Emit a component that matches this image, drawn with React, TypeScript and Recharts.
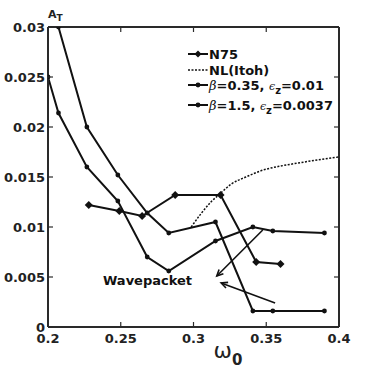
import { LineChart, Line, XAxis, YAxis, ReferenceLine, ReferenceDot, Legend, CartesianGrid } from "recharts";

const xTicks = [0.2, 0.25, 0.3, 0.35, 0.4];
const yTicks = [0, 0.005, 0.01, 0.015, 0.02, 0.025, 0.03];
const xDomain = [0.2, 0.4];
const yDomain = [0, 0.03];

// N75
const n75Omega = [0.228, 0.249, 0.2647, 0.2874, 0.3186, 0.3431, 0.3598];
const n75Amp = [0.0122, 0.0116, 0.0111, 0.0132, 0.0132, 0.0065, 0.0063];

// NL(Itoh)
const itohOmega = [0.2984, 0.305, 0.312, 0.318, 0.326, 0.336, 0.348, 0.36, 0.372, 0.385, 0.4];
const itohAmp = [0.01, 0.0113, 0.0125, 0.0133, 0.0143, 0.015, 0.0157, 0.0161, 0.0164, 0.0167, 0.017];

// beta=0.35, eps_z=0.01
const b035Omega = [0.2, 0.2072, 0.2267, 0.248, 0.2682, 0.283, 0.3151, 0.3408, 0.3545, 0.39];
const b035Amp = [0.025, 0.0214, 0.016, 0.0126, 0.007, 0.0056, 0.0086, 0.01, 0.0096, 0.0094];

// beta=1.5, eps_z=0.0037
const b15Omega = [0.2072, 0.2267, 0.248, 0.2682, 0.283, 0.3151, 0.3408, 0.3545, 0.39];
const b15Amp = [0.03, 0.02, 0.0152, 0.0114, 0.0094, 0.0105, 0.0016, 0.0016, 0.0016];

// wavepacket arrows
const arrowStart = [
  [0.3476, 0.0097],
  [0.3561, 0.0024],
];
const arrowEnd = [
  [0.316, 0.0051],
  [0.319, 0.0044],
];

const toPts = (xs: number[], ys: number[]) => xs.map((x, i) => ({ x, y: ys[i] }));

const W = 374;
const H = 368;
const M = { top: 27, right: 35, bottom: 0, left: 0 };

const FONT = "'DejaVu Sans', sans-serif";
const INK = "#111";
const AX = "#2a2a2a";

const BottomTick = (p: any) => (
  <g>
    <line x1={p.x} y1={p.y} x2={p.x} y2={p.y - 5} stroke={AX} strokeWidth={1.2} />
    <text x={p.x} y={p.y + 16} textAnchor="middle" fontFamily={FONT} fontWeight="bold" fontSize={13} fill="#222">
      {p.payload.value}
    </text>
  </g>
);
const LeftTick = (p: any) => (
  <g>
    <line x1={p.x} y1={p.y} x2={p.x + 5} y2={p.y} stroke={AX} strokeWidth={1.2} />
    <text x={p.x - 3} y={p.y + 4.5} textAnchor="end" fontFamily={FONT} fontWeight="bold" fontSize={13} fill="#222">
      {p.payload.value}
    </text>
  </g>
);

// grid line used only for the top and right sides of the box, with inward ticks
const BoxSide = (p: any) => {
  const { x1, y1, x2, y2 } = p;
  if (![x1, y1, x2, y2].every((v) => typeof v === "number" && isFinite(v))) return null;
  const horizontal = Math.abs(y1 - y2) < 0.5;
  const ticks = horizontal
    ? xTicks.map((t) => {
        const x = Math.min(x1, x2) + ((t - xDomain[0]) / (xDomain[1] - xDomain[0])) * Math.abs(x2 - x1);
        return <line key={t} x1={x} y1={y1} x2={x} y2={y1 + 5} stroke={AX} strokeWidth={1.2} />;
      })
    : yTicks.map((t) => {
        const y = Math.max(y1, y2) - ((t - yDomain[0]) / (yDomain[1] - yDomain[0])) * Math.abs(y2 - y1);
        return <line key={t} x1={x1} y1={y} x2={x1 - 5} y2={y} stroke={AX} strokeWidth={1.2} />;
      });
  return (
    <g>
      <line x1={x1} y1={y1} x2={x2} y2={y2} stroke={AX} strokeWidth={2} />
      {ticks}
    </g>
  );
};

const Diamond = (p: any) =>
  p.cx == null ? null : (
    <polygon
      key={p.key}
      points={`${p.cx},${p.cy - 4} ${p.cx + 4},${p.cy} ${p.cx},${p.cy + 4} ${p.cx - 4},${p.cy}`}
      fill={INK}
    />
  );
const Dot = (p: any) => (p.cx == null ? null : <circle key={p.key} cx={p.cx} cy={p.cy} r={2.4} fill={INK} />);

const Arrow = (p: any) => {
  const { x1, y1, x2, y2 } = p;
  const a = Math.atan2(y2 - y1, x2 - x1);
  const L = 7;
  const w = 0.45;
  const ax = x2 - L * Math.cos(a - w);
  const ay = y2 - L * Math.sin(a - w);
  const bx = x2 - L * Math.cos(a + w);
  const by = y2 - L * Math.sin(a + w);
  return (
    <g>
      <line x1={x1} y1={y1} x2={x2} y2={y2} stroke={INK} strokeWidth={1.6} />
      <polyline points={`${ax},${ay} ${x2},${y2} ${bx},${by}`} fill="none" stroke={INK} strokeWidth={1.6} />
    </g>
  );
};

const WaveLabel = (p: any) => (
  <text x={p.viewBox.x} y={p.viewBox.y + 4.5} textAnchor="middle" fontFamily={FONT} fontWeight="bold" fontSize={13} fill="#111">
    Wavepacket
  </text>
);

const XLabel = (p: any) => {
  const { x, y, width } = p.viewBox;
  const cx = x + width / 2 + 32;
  return (
    <text x={cx - 12} y={y + 31} fontFamily={FONT} fill="#222">
      <tspan fontSize={22}>ω</tspan>
      <tspan fontSize={15} fontWeight="bold" dy={7}>0</tspan>
    </text>
  );
};

const YLabel = (p: any) => {
  const { x, y, width } = p.viewBox;
  return (
    <text x={x + width} y={y - 9} fontFamily={FONT} fontWeight="bold" fill="#222">
      <tspan fontSize={11}>A</tspan>
      <tspan fontSize={9} dy={3}>T</tspan>
    </text>
  );
};

const LegendBox = () => {
  const rows = [9, 25, 40, 60];
  const txt = { fontFamily: FONT, fontWeight: "bold" as const, fontSize: 13, fill: "#111" };
  const greek = { fontFamily: "'DejaVu Serif', serif", fontStyle: "italic" as const, fontWeight: "normal" as const };
  return (
    <svg width={160} height={75} style={{ overflow: "visible", display: "block" }}>
      <line x1={1} y1={rows[0]} x2={21} y2={rows[0]} stroke={INK} strokeWidth={2} />
      <polygon points={`11,${rows[0] - 3.5} 14.5,${rows[0]} 11,${rows[0] + 3.5} 7.5,${rows[0]}`} fill={INK} />
      <text x={22} y={rows[0] + 4.5} {...txt}>N75</text>

      <line x1={1} y1={rows[1]} x2={21} y2={rows[1]} stroke={INK} strokeWidth={1.5} strokeDasharray="2 1.5" />
      <text x={22} y={rows[1] + 4.5} {...txt}>NL(Itoh)</text>

      <line x1={1} y1={rows[2]} x2={21} y2={rows[2]} stroke={INK} strokeWidth={2} />
      <circle cx={11} cy={rows[2]} r={2.4} fill={INK} />
      <text x={22} y={rows[2] + 4.5} {...txt}>
        <tspan {...greek}>β</tspan>=0.35, <tspan {...greek} fontSize={11}>ϵ</tspan>
        <tspan fontSize={10} dy={4}>z</tspan>
        <tspan dy={-4}>=0.01</tspan>
      </text>

      <line x1={1} y1={rows[3]} x2={21} y2={rows[3]} stroke={INK} strokeWidth={2} />
      <circle cx={11} cy={rows[3]} r={2.4} fill={INK} />
      <text x={22} y={rows[3] + 4.5} {...txt}>
        <tspan {...greek}>β</tspan>=1.5, <tspan {...greek} fontSize={11}>ϵ</tspan>
        <tspan fontSize={10} dy={4}>z</tspan>
        <tspan dy={-4}>=0.0037</tspan>
      </text>
    </svg>
  );
};

export default function App() {
  return (
    <div style={{ position: "absolute", left: 0, top: 0, width: W, height: H }}>
      <LineChart width={W} height={H} margin={M}>
        <CartesianGrid
          xAxisId="b"
          yAxisId="l"
          horizontalValues={[yDomain[1]]}
          verticalValues={[xDomain[1]]}
          stroke={AX}
          strokeWidth={2}
          strokeDasharray=""
          horizontal={<BoxSide />}
          vertical={<BoxSide />}
        />
        <XAxis
          xAxisId="b"
          type="number"
          dataKey="x"
          domain={xDomain}
          ticks={xTicks}
          tickSize={0}
          tickMargin={0}
          height={41}
          tick={<BottomTick />}
          axisLine={{ stroke: AX, strokeWidth: 2 }}
          allowDataOverflow
          label={<XLabel />}
        />
        <YAxis
          yAxisId="l"
          type="number"
          dataKey="y"
          domain={yDomain}
          ticks={yTicks}
          tickSize={0}
          tickMargin={0}
          width={48}
          tick={<LeftTick />}
          axisLine={{ stroke: AX, strokeWidth: 2 }}
          allowDataOverflow
          label={<YLabel />}
        />
        <Legend
          content={<LegendBox />}
          layout="horizontal"
          verticalAlign="middle"
          align="center"
          wrapperStyle={{ position: "absolute", left: 187, top: 45, width: 170, height: 75 }}
        />
        <Line
          xAxisId="b"
          yAxisId="l"
          data={toPts(itohOmega, itohAmp)}
          dataKey="y"
          type="monotone"
          stroke={INK}
          strokeWidth={1.5}
          strokeDasharray="2 1.5"
          dot={false}
          isAnimationActive={false}
        />
        <Line
          xAxisId="b"
          yAxisId="l"
          data={toPts(b035Omega, b035Amp)}
          dataKey="y"
          type="linear"
          stroke={INK}
          strokeWidth={2}
          dot={<Dot />}
          isAnimationActive={false}
        />
        <Line
          xAxisId="b"
          yAxisId="l"
          data={toPts(b15Omega, b15Amp)}
          dataKey="y"
          type="linear"
          stroke={INK}
          strokeWidth={2}
          dot={<Dot />}
          isAnimationActive={false}
        />
        <Line
          xAxisId="b"
          yAxisId="l"
          data={toPts(n75Omega, n75Amp)}
          dataKey="y"
          type="linear"
          stroke={INK}
          strokeWidth={2}
          dot={<Diamond />}
          isAnimationActive={false}
        />
        {arrowStart.map((s, i) => (
          <ReferenceLine
            key={i}
            xAxisId="b"
            yAxisId="l"
            segment={[
              { x: s[0], y: s[1] },
              { x: arrowEnd[i][0], y: arrowEnd[i][1] },
            ]}
            shape={<Arrow />}
          />
        ))}
        <ReferenceDot xAxisId="b" yAxisId="l" x={0.2684} y={0.0047} r={0} label={<WaveLabel />} />
      </LineChart>
    </div>
  );
}
